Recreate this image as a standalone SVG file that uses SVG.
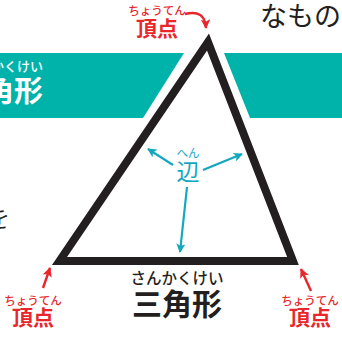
<svg xmlns="http://www.w3.org/2000/svg" width="342" height="337" viewBox="0 0 342 337">
<defs>
<style>
.jp{font-family:"Noto Sans CJK JP","Noto Sans CJK SC",sans-serif}
.red{fill:#e8262b}
.teal{fill:#14a8bf}
.blk{fill:#231f20}
.wht{fill:#ffffff}
.ra{stroke:#e8262b;stroke-width:2.4;fill:none}
.ta{stroke:#14a8bf;stroke-width:2.2;fill:none}
</style>
<marker id="mr" viewBox="0 0 10 10" refX="9" refY="5" markerWidth="4" markerHeight="4" orient="auto" markerUnits="strokeWidth">
<path d="M0,0 L10,5 L0,10 L2.5,5 Z" fill="#e8262b"/>
</marker>
<marker id="mt" viewBox="0 0 10 10" refX="9" refY="5" markerWidth="4.2" markerHeight="4.2" orient="auto" markerUnits="strokeWidth">
<path d="M0,0 L10,5 L0,10 L2.5,5 Z" fill="#14a8bf"/>
</marker>
</defs>
<rect width="342" height="337" fill="#ffffff"/>

<g id="band">
<polygon points="0,53 184,53 143,118 0,118" fill="#00b3aa"/>
<polygon points="224,53 342,53 342,118 250,118" fill="#00b3aa"/>
<text class="jp wht" x="43" y="71" font-size="13" font-weight="500" text-anchor="end">さんかくけい</text>
<text class="jp wht" x="43" y="102" font-size="29" font-weight="bold" text-anchor="end">三角形</text>
</g>

<g id="side-text">
<text class="jp blk" x="260" y="26" font-size="27">なもの</text>
<text class="jp blk" x="-14" y="227" font-size="24">を</text>
</g>

<g id="triangle">
<polygon points="208,42 59.5,261 293,261" fill="#ffffff" stroke="#ffffff" stroke-width="20" stroke-linejoin="miter"/>
<polygon points="208,42 59.5,261 293,261" fill="#ffffff" stroke="#231f20" stroke-width="8" stroke-linejoin="miter" stroke-miterlimit="10"/>
</g>

<g id="connectors">
<path class="ra" d="M185,14 Q205,9 206,28" marker-end="url(#mr)"/>
<path class="ra" d="M43,288 L50,268" marker-end="url(#mr)"/>
<path class="ra" d="M311,291 L301,269" marker-end="url(#mr)"/>
<path class="ta" d="M173,165 L148,149" marker-end="url(#mt)"/>
<path class="ta" d="M203,170 L242,154" marker-end="url(#mt)"/>
<path class="ta" d="M187,187 L180,252" marker-end="url(#mt)"/>
</g>

<g id="vertex-top">
<text class="jp red" x="157" y="15" font-size="11.5" font-weight="500" text-anchor="middle">ちょうてん</text>
<text class="jp red" x="157" y="36" font-size="21" font-weight="bold" text-anchor="middle">頂点</text>
</g>
<g id="vertex-left">
<text class="jp red" x="33" y="305" font-size="11.5" font-weight="500" text-anchor="middle">ちょうてん</text>
<text class="jp red" x="33" y="325" font-size="21" font-weight="bold" text-anchor="middle">頂点</text>
</g>
<g id="vertex-right">
<text class="jp red" x="310" y="305" font-size="11.5" font-weight="500" text-anchor="middle">ちょうてん</text>
<text class="jp red" x="310" y="325" font-size="21" font-weight="bold" text-anchor="middle">頂点</text>
</g>
<g id="edge-label">
<text class="jp teal" x="188" y="157" font-size="11.5" text-anchor="middle">へん</text>
<text class="jp teal" x="188" y="180" font-size="23" text-anchor="middle">辺</text>
</g>
<g id="title">
<text class="jp blk" x="177" y="284" font-size="15.5" font-weight="500" text-anchor="middle">さんかくけい</text>
<text class="jp blk" x="177" y="315" font-size="30" font-weight="bold" text-anchor="middle">三角形</text>
</g>
</svg>
